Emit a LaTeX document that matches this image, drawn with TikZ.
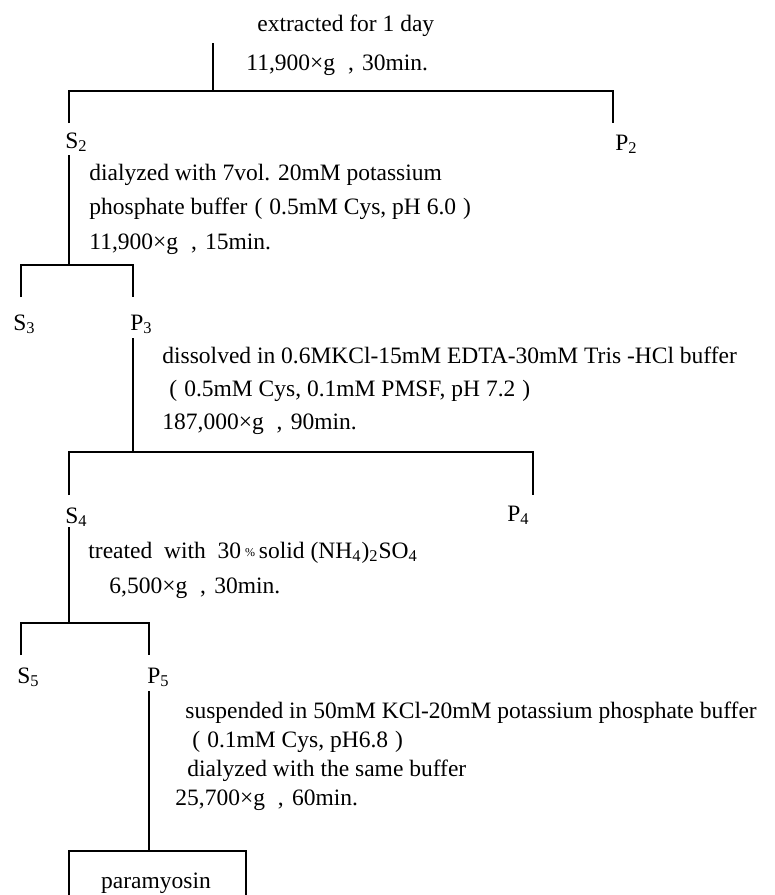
\documentclass[tikz,border=0pt]{standalone}
\usepackage{fontspec}
\setmainfont{Liberation Serif}
\newcommand{\fwl}{\hspace{0.3em}(\hspace{0.3em}}
\newcommand{\fwr}{\hspace{0.3em})}
\newcommand{\fwc}{\hspace{0.55em},\hspace{0.35em}}
\tikzset{
  txt/.style={anchor=base west, inner sep=0pt, font=\fontsize{11.75}{14}\selectfont},
  lbl/.style={anchor=base west, inner sep=0pt, font=\fontsize{11.75}{14}\selectfont},
  ln/.style={draw=black, line width=0.9pt}
}
\begin{document}
\begin{tikzpicture}[x=0.5pt,y=-0.5pt]
\useasboundingbox (0,0) rectangle (775,895);
% ---- texts ----
\node[txt] (t1) at (257,31) {extracted for 1 day};
\node[txt] (t2) at (246,70) {11,900×g\fwc30min.};
\node[lbl] (S2) at (65,148) {S\textsubscript{2}};
\node[lbl] (P2) at (615,150) {P\textsubscript{2}};
\node[txt] (t3) at (89,180) {dialyzed with 7vol. 20mM potassium};
\node[txt] (t4) at (89,214) {phosphate buffer\fwl0.5mM Cys, pH 6.0\fwr};
\node[txt] (t5) at (89,249) {11,900×g\fwc15min.};
\node[lbl] (S3) at (13,330) {S\textsubscript{3}};
\node[lbl] (P3) at (130,330) {P\textsubscript{3}};
\node[txt] (t6) at (162,363) {dissolved in 0.6MKCl-15mM EDTA-30mM Tris -HCl buffer};
\node[txt] (t7) at (162,396) {\hspace{0.3em}(\hspace{0.3em}0.5mM Cys, 0.1mM PMSF, pH 7.2\fwr};
\node[txt] (t8) at (162,429) {187,000×g\fwc90min.};
\node[lbl] (S4) at (65,523) {S\textsubscript{4}};
\node[lbl] (P4) at (507,521) {P\textsubscript{4}};
\node[txt] (t9) at (88,558) {treated\ \ with\ \ 30\,{\fontsize{6}{6}\selectfont\raisebox{0.25ex}{\%}}\,solid (NH\textsubscript{4})\textsubscript{2}SO\textsubscript{4}};
\node[txt] (t10) at (109,593) {6,500×g\fwc30min.};
\node[lbl] (S5) at (17,683) {S\textsubscript{5}};
\node[lbl] (P5) at (147,683) {P\textsubscript{5}};
\node[txt] (t11) at (185,718) {suspended in 50mM KCl-20mM potassium phosphate buffer};
\node[txt] (t12) at (185,747) {\hspace{0.3em}(\hspace{0.3em}0.1mM Cys, pH6.8\fwr};
\node[txt] (t13) at (187,776) {dialyzed with the same buffer};
\node[txt] (t14) at (175,805) {25,700×g\fwc60min.};
\node[txt, anchor=base] (para) at (156,888) {paramyosin};
% ---- coordinates ----
\coordinate (a0) at (213,43);
\coordinate (a1) at (213,91);
\coordinate (h1l) at (69,91);
\coordinate (h1r) at (613,91);
\coordinate (s2t) at (69,123);
\coordinate (p2t) at (613,123);
\coordinate (s2b) at (69,155);
\coordinate (h2m) at (69,265);
\coordinate (h2l) at (21,265);
\coordinate (h2r) at (133,265);
\coordinate (s3t) at (21,297);
\coordinate (p3t) at (133,297);
\coordinate (p3b) at (133,338);
\coordinate (h3m) at (133,452);
\coordinate (h3l) at (69,452);
\coordinate (h3r) at (533,452);
\coordinate (s4t) at (69,495);
\coordinate (p4t) at (533,495);
\coordinate (s4b) at (69,527);
\coordinate (h4m) at (69,623);
\coordinate (h4l) at (21,623);
\coordinate (h4r) at (149,623);
\coordinate (s5t) at (21,655);
\coordinate (p5t) at (149,655);
\coordinate (p5b) at (149,691);
\coordinate (bxm) at (149,851);
\coordinate (bxl) at (69,851);
\coordinate (bxr) at (246,851);
\coordinate (bxlb) at (69,895);
\coordinate (bxrb) at (246,895);
% ---- connectors ----
\draw[ln] (a0) -- (a1);
\draw[ln] (s2t) -- (h1l) -- (h1r) -- (p2t);
\draw[ln] (s2b) -- (h2m);
\draw[ln] (s3t) -- (h2l) -- (h2r) -- (p3t);
\draw[ln] (p3b) -- (h3m);
\draw[ln] (s4t) -- (h3l) -- (h3r) -- (p4t);
\draw[ln] (s4b) -- (h4m);
\draw[ln] (s5t) -- (h4l) -- (h4r) -- (p5t);
\draw[ln] (p5b) -- (bxm);
\draw[ln] (bxlb) -- (bxl) -- (bxr) -- (bxrb);
\end{tikzpicture}
\end{document}
